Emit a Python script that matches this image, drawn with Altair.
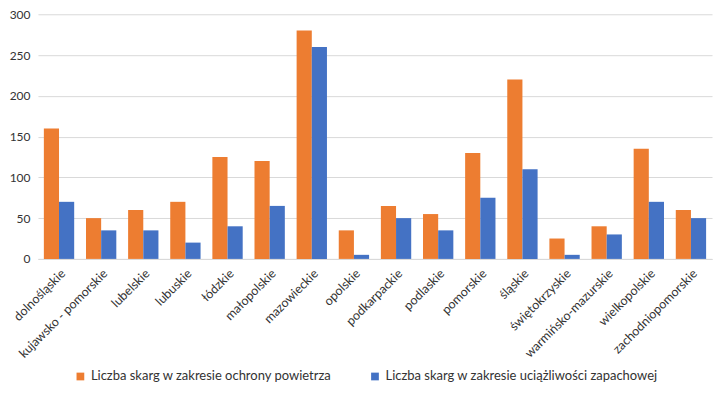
import altair as alt
import pandas as pd

regions = ["dolnośląskie", "kujawsko - pomorskie", "lubelskie", "lubuskie", "łódzkie",
           "małopolskie", "mazowieckie", "opolskie", "podkarpackie", "podlaskie",
           "pomorskie", "śląskie", "świętokrzyskie", "warmińsko-mazurskie",
           "wielkopolskie", "zachodniopomorskie"]
air = [160, 50, 60, 70, 125, 120, 280, 35, 65, 55, 130, 220, 25, 40, 135, 60]
odour = [70, 35, 35, 20, 40, 65, 260, 5, 50, 35, 75, 110, 5, 30, 70, 50]
series = ["Liczba skarg w zakresie ochrony powietrza",
          "Liczba skarg w zakresie uciążliwości zapachowej"]
colors = ["#ED7D31", "#4472C4"]

rows = []
for i, r in enumerate(regions):
    rows.append({"region": r, "series": series[0], "value": air[i]})
    rows.append({"region": r, "series": series[1], "value": odour[i]})
df = pd.DataFrame(rows)

FONT = "Lato"

chart = alt.Chart(df).mark_bar().encode(
    x=alt.X("region:N", sort=regions, title=None,
            scale=alt.Scale(paddingInner=0.28, paddingOuter=0.14),
            axis=alt.Axis(labelAngle=-45, labelAlign="right", labelBaseline="top",
                          ticks=False, domainColor="#D9D9D9", labelFontSize=12.5,
                          labelColor="#333333", labelPadding=8, labelFont=FONT)),
    xOffset=alt.XOffset("series:N", sort=series),
    y=alt.Y("value:Q", title=None,
            scale=alt.Scale(domain=[0, 300], nice=False),
            axis=alt.Axis(values=[0, 50, 100, 150, 200, 250, 300], domain=False,
                          ticks=False, gridColor="#D9D9D9", labelFontSize=12,
                          labelColor="#333333", labelPadding=8, labelFont=FONT)),
    color=alt.Color("series:N", sort=series,
                    scale=alt.Scale(domain=series, range=colors),
                    legend=alt.Legend(orient="none", legendX=36, legendY=356,
                                      direction="horizontal", title=None,
                                      symbolType="square", symbolSize=60,
                                      labelFontSize=13, labelColor="#333333",
                                      labelFont=FONT, columnPadding=36, labelLimit=0,
                                      symbolStrokeWidth=0)),
).properties(
    width=675, height=245,
    padding={"left": 1, "top": 0, "right": 5, "bottom": 0},
).configure_view(stroke=None)

chart.save("out.html", embed_options={"renderer": "svg", "actions": False})
